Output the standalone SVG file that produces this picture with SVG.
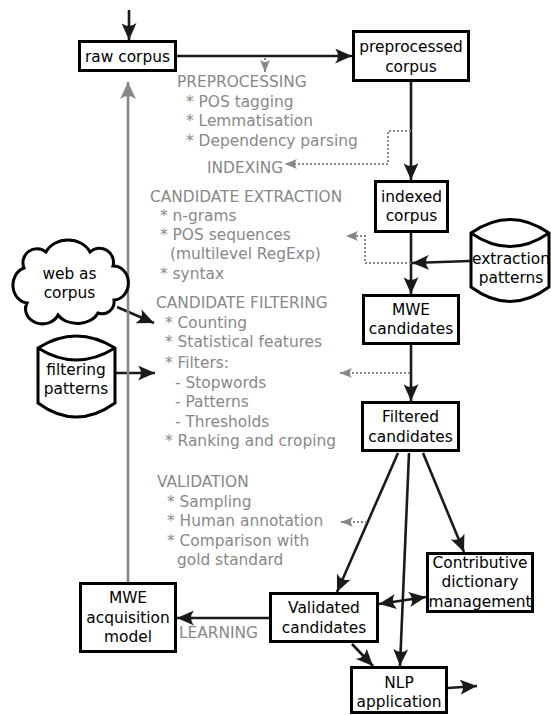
<svg xmlns="http://www.w3.org/2000/svg" width="551" height="715" viewBox="0 0 551 715">
<style>
.box{fill:#fff;stroke:#000;stroke-width:3}
.t{font-family:"DejaVu Sans",sans-serif;font-size:15.4px;fill:#000;text-anchor:middle}
.g{font-family:"DejaVu Sans",sans-serif;font-size:15.4px;fill:#888}
.c{fill:none;stroke:#1a1a1a;stroke-width:2.6}
.cg{fill:none;stroke:#888;stroke-width:2.6}
.d{fill:none;stroke:#888;stroke-width:2;stroke-dasharray:2,2}
</style>
<defs>
<marker id="ab" markerUnits="userSpaceOnUse" markerWidth="17" markerHeight="15" viewBox="0 0 17 15" refX="17" refY="7.5" orient="auto"><path d="M17,7.5 L0,0 Q6,7.5 0,15 Z" fill="#1a1a1a"/></marker>
<marker id="as" markerUnits="userSpaceOnUse" markerWidth="17" markerHeight="15" viewBox="0 0 17 15" refX="17" refY="7.5" orient="auto-start-reverse"><path d="M17,7.5 L0,0 Q6,7.5 0,15 Z" fill="#1a1a1a"/></marker>
<marker id="ag" markerUnits="userSpaceOnUse" markerWidth="17" markerHeight="16" viewBox="0 0 17 16" refX="17" refY="8" orient="auto"><path d="M17,8 L0,0 Q6,8 0,16 Z" fill="#888"/></marker>
<marker id="ad" markerUnits="userSpaceOnUse" markerWidth="12" markerHeight="10" viewBox="0 0 12 10" refX="12" refY="5" orient="auto"><path d="M12,5 L0,0 Q4,5 0,10 Z" fill="#888"/></marker>
</defs>

<g id="connectors">
<line class="c" x1="129" y1="10" x2="129" y2="40" marker-end="url(#ab)"/>
<line class="c" x1="177" y1="56" x2="352" y2="56" marker-end="url(#ab)"/>
<line class="c" x1="411" y1="82" x2="411" y2="180" marker-end="url(#ab)"/>
<line class="c" x1="411" y1="233" x2="411" y2="294" marker-end="url(#ab)"/>
<line class="c" x1="470" y1="261" x2="412" y2="263" marker-end="url(#ab)"/>
<line class="c" x1="411" y1="345" x2="411" y2="401" marker-end="url(#ab)"/>
<line class="c" x1="117" y1="307" x2="154" y2="323" marker-end="url(#ab)"/>
<line class="c" x1="116" y1="373" x2="155" y2="373" marker-end="url(#ab)"/>
<line class="cg" x1="128" y1="582" x2="128" y2="82" marker-end="url(#ag)"/>
<line class="c" x1="398" y1="453" x2="337" y2="592" marker-end="url(#ab)"/>
<line class="c" x1="409" y1="453" x2="400" y2="666" marker-end="url(#ab)"/>
<line class="c" x1="423" y1="453" x2="464" y2="552" marker-end="url(#ab)"/>
<line class="c" x1="379" y1="604" x2="426" y2="597" marker-start="url(#as)" marker-end="url(#ab)"/>
<line class="c" x1="269" y1="618" x2="177" y2="618" marker-end="url(#ab)"/>
<line class="c" x1="352" y1="644" x2="373" y2="666" marker-end="url(#ab)"/>
<line class="c" x1="448" y1="688" x2="477" y2="686" marker-end="url(#ab)"/>
<polyline class="d" points="411,131 388,131 388,164 285,164" marker-end="url(#ad)"/>
<polyline class="d" points="411,263 365,263 365,236 346,236" marker-end="url(#ad)"/>
<line class="d" x1="410" y1="373" x2="340" y2="373" marker-end="url(#ad)"/>
<line class="d" x1="367" y1="522" x2="341" y2="522" marker-end="url(#ad)"/>
<line class="d" x1="265" y1="58" x2="265" y2="72" marker-end="url(#ad)"/>
</g>

<g id="raw-corpus"><rect class="box" x="79.5" y="41.5" width="96" height="29"/><text class="t" x="127.5" y="62">raw corpus</text></g>
<g id="preprocessed-corpus"><rect class="box" x="353.5" y="31.5" width="115" height="49"/><text class="t" x="411" y="52">preprocessed</text><text class="t" x="411" y="72">corpus</text></g>
<g id="indexed-corpus"><rect class="box" x="375.5" y="181.5" width="72" height="50"/><text class="t" x="411.5" y="202">indexed</text><text class="t" x="411.5" y="221">corpus</text></g>
<g id="mwe-candidates"><rect class="box" x="363.5" y="295.5" width="95" height="48"/><text class="t" x="411" y="315">MWE</text><text class="t" x="411" y="334">candidates</text></g>
<g id="filtered-candidates"><rect class="box" x="362.5" y="402.5" width="96" height="48"/><text class="t" x="410.5" y="422">Filtered</text><text class="t" x="410.5" y="442">candidates</text></g>
<g id="contributive"><rect class="box" x="427.5" y="553.5" width="105" height="58"/><text class="t" x="480" y="568">Contributive</text><text class="t" x="480" y="587">dictionary</text><text class="t" x="480" y="607">management</text></g>
<g id="validated-candidates"><rect class="box" x="270.5" y="593.5" width="107" height="48"/><text class="t" x="324" y="613">Validated</text><text class="t" x="324" y="633">candidates</text></g>
<g id="mwe-acquisition-model"><rect class="box" x="80.5" y="583.5" width="95" height="68"/><text class="t" x="128" y="603">MWE</text><text class="t" x="128" y="623">acquisition</text><text class="t" x="128" y="642">model</text></g>
<g id="nlp-application"><rect class="box" x="351.5" y="667.5" width="95" height="45"/><text class="t" x="399" y="688">NLP</text><text class="t" x="399" y="707">application</text></g>
<g id="extraction-patterns"><path class="box" d="M471,233 Q510,206 549,233 L549,287 Q510,316 471,287 Z M471,233 Q510,260 549,233"/><text class="t" x="511" y="264">extraction</text><text class="t" x="511" y="283">patterns</text></g>
<g id="filtering-patterns"><path class="box" d="M38,348 Q76,324 115,348 L115,403 Q76,431 38,403 Z M38,348 Q76,372 115,348"/><text class="t" x="76" y="375">filtering</text><text class="t" x="76" y="394">patterns</text></g>
<g id="web-as-corpus"><path class="box" d="M24,268 A14,14 0 0 1 46,252 A24,20 0 0 1 90,252 A14,14 0 0 1 113,266 A14,16 0 0 1 114,300 A12,12 0 0 1 98,313 A22,16 0 0 1 58,315 A16,14 0 0 1 27,303 A16,18 0 0 1 24,268 Z"/><text class="t" x="69.5" y="279">web as</text><text class="t" x="69.5" y="298">corpus</text></g>

<g id="annotations">
<text class="g" x="177" y="87">PREPROCESSING</text>
<text class="g" x="186" y="107">* POS tagging</text>
<text class="g" x="186" y="126">* Lemmatisation</text>
<text class="g" x="186" y="146">* Dependency parsing</text>
<text class="g" x="207" y="173">INDEXING</text>
<text class="g" x="150" y="202">CANDIDATE EXTRACTION</text>
<text class="g" x="160" y="221">* n-grams</text>
<text class="g" x="160" y="240">* POS sequences</text>
<text class="g" x="170" y="259">(multilevel RegExp)</text>
<text class="g" x="160" y="279">* syntax</text>
<text class="g" x="156" y="308">CANDIDATE FILTERING</text>
<text class="g" x="165" y="328">* Counting</text>
<text class="g" x="165" y="347">* Statistical features</text>
<text class="g" x="165" y="368">* Filters:</text>
<text class="g" x="175" y="388">- Stopwords</text>
<text class="g" x="175" y="407">- Patterns</text>
<text class="g" x="175" y="427">- Thresholds</text>
<text class="g" x="165" y="446">* Ranking and croping</text>
<text class="g" x="157" y="487">VALIDATION</text>
<text class="g" x="167" y="507">* Sampling</text>
<text class="g" x="167" y="526">* Human annotation</text>
<text class="g" x="167" y="546">* Comparison with</text>
<text class="g" x="177" y="565">gold standard</text>
<text class="g" x="179" y="638">LEARNING</text>
</g>
</svg>
